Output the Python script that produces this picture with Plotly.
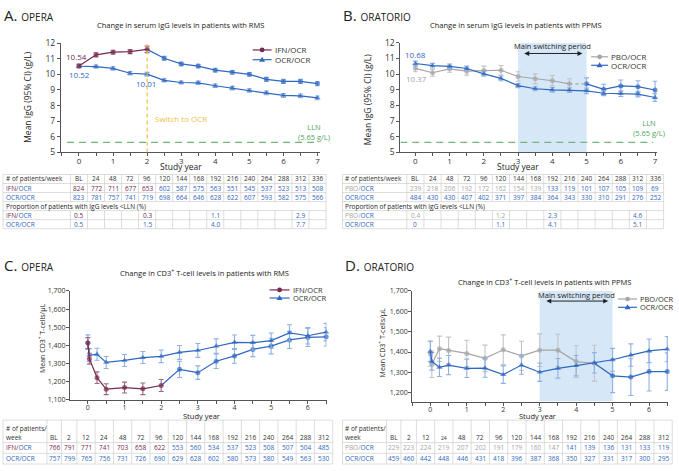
import plotly.graph_objects as go

W, H = 679, 471
FONT = "Open Sans"
PURPLE = "#75294f"
PURPLE_ERR = "#9c6a83"
BLUE = "#2f68c0"
BLUE_ERR = "#8fb1e2"
GRAY = "#a5a5a5"
GRAY_ERR = "#c4c4c4"
TXT = "#333333"
GOLD = "#f3bf3f"
GREEN = "#72b67f"
GREEN_T = "#4ea35f"
SHADE = "#d6e7f8"
LINEC = "#cfcfcf"

# ---------------- DATA ----------------
# Panel A: OPERA serum IgG (g/L)
weeks_A = [0, 24, 48, 72, 96, 120, 144, 168, 192, 216, 240, 264, 288, 312, 336]
igg_A_ifn = [10.54, 11.25, 11.42, 11.45, 11.60, 11.03, 10.67, 10.53, 10.27, 10.13, 10.00, 9.68, 9.55, 9.55, 9.41]
igg_A_ifn_err = [0.12, 0.13, 0.12, 0.13, 0.21, 0.12, 0.11, 0.12, 0.12, 0.12, 0.12, 0.13, 0.13, 0.13, 0.13]
igg_A_ocr = [10.52, 10.50, 10.38, 10.07, 10.01, 9.62, 9.48, 9.46, 9.27, 9.12, 8.97, 8.82, 8.65, 8.62, 8.50]
igg_A_ocr_err = [0.10, 0.10, 0.11, 0.11, 0.12, 0.10, 0.10, 0.11, 0.11, 0.11, 0.11, 0.12, 0.12, 0.12, 0.12]
n_A_ifn = [824, 772, 711, 677, 653, 602, 587, 575, 563, 551, 545, 537, 523, 513, 508]
n_A_ocr = [823, 781, 757, 741, 719, 698, 664, 646, 628, 622, 607, 593, 582, 575, 566]
lln_weeks_A = [0, 96, 192, 312]
lln_A_ifn = ["0.5", "0.3", "1.1", "2.9"]
lln_A_ocr = ["0.5", "1.5", "4.0", "7.7"]

# Panel B: ORATORIO serum IgG (g/L)
weeks_B = [0, 24, 48, 72, 96, 120, 144, 168, 192, 216, 240, 264, 288, 312, 336]
igg_B_pbo = [10.37, 10.09, 10.34, 10.19, 10.23, 10.25, 9.85, 9.70, 9.58, 9.38, 9.38, 9.03, 9.25, 9.20, 8.99]
igg_B_pbo_err = [0.22, 0.22, 0.22, 0.25, 0.28, 0.30, 0.30, 0.32, 0.33, 0.33, 0.38, 0.33, 0.38, 0.38, 0.56]
igg_B_ocr = [10.68, 10.54, 10.50, 10.36, 10.02, 9.73, 9.27, 9.07, 9.00, 8.98, 8.93, 8.78, 8.75, 8.73, 8.51]
igg_B_ocr_err = [0.15, 0.15, 0.15, 0.15, 0.15, 0.15, 0.13, 0.13, 0.15, 0.15, 0.18, 0.15, 0.18, 0.18, 0.25]
n_B_pbo = [239, 218, 206, 192, 172, 162, 154, 139, 133, 119, 101, 107, 105, 109, 69]
n_B_ocr = [484, 430, 430, 407, 402, 371, 397, 384, 364, 343, 330, 310, 291, 276, 252]
lln_weeks_B = [0, 120, 192, 312]
lln_B_pbo = ["0.4", "1.2", "2.3", "4.6"]
lln_B_ocr = ["0", "1.1", "4.1", "5.1"]

# Panel C: OPERA CD3+ T cells (cells/uL)
weeks_C = [0, 2, 12, 24, 48, 72, 96, 120, 144, 168, 192, 216, 240, 264, 288, 312]
cd3_C_ifn = [1413, 1327, 1222, 1159, 1168, 1161, 1179, 1268, 1250, 1313, 1342, 1378, 1396, 1430, 1444, 1447]
cd3_C_ifn_err = [30, 30, 32, 30, 30, 32, 33, 45, 37, 40, 40, 40, 43, 47, 50, 50]
cd3_C_ocr = [1418, 1347, 1351, 1306, 1317, 1333, 1340, 1361, 1372, 1396, 1417, 1415, 1426, 1469, 1453, 1473]
cd3_C_ocr_err = [40, 35, 33, 33, 33, 33, 35, 38, 38, 40, 40, 40, 42, 45, 45, 48]
n_C_ifn = [766, 791, 771, 741, 703, 658, 622, 553, 560, 534, 537, 523, 508, 507, 504, 485]
n_C_ocr = [757, 799, 765, 756, 731, 726, 690, 629, 628, 602, 580, 573, 580, 549, 563, 530]

# Panel D: ORATORIO CD3+ T cells (cells/uL)
weeks_D = [0, 2, 12, 24, 48, 72, 96, 120, 144, 168, 192, 216, 240, 264, 288, 312]
cd3_D_pbo = [1392, 1340, 1416, 1408, 1393, 1369, 1411, 1381, 1409, 1409, 1353, 1345, 1283, 1277, 1304, 1304]
cd3_D_pbo_err = [62, 65, 62, 65, 65, 65, 73, 72, 80, 78, 78, 88, 82, 90, 95, 92]
cd3_D_ocr = [1403, 1354, 1325, 1336, 1320, 1321, 1289, 1336, 1301, 1320, 1333, 1347, 1362, 1385, 1406, 1414]
cd3_D_ocr_err = [50, 43, 45, 47, 45, 45, 43, 45, 45, 48, 50, 50, 56, 55, 58, 62]
n_D_pbo = [229, 223, 224, 219, 207, 202, 191, 179, 160, 147, 141, 139, 136, 131, 133, 119]
n_D_ocr = [459, 460, 442, 448, 446, 431, 418, 396, 387, 368, 350, 327, 331, 317, 300, 295]

WEEKS_PER_YEAR = 48
LLN = 5.65

# ---------------- GEOMETRY ----------------
P = {
    "A": dict(xa="x", ya="y", px=(61, 320), xr=(-0.53, 7.06), py=(38, 150), yr=(5, 12)),
    "B": dict(xa="x2", ya="y2", px=(401, 658), xr=(-0.4375, 7.058), py=(37.7, 150), yr=(5, 12)),
    "C": dict(xa="x3", ya="y3", px=(70, 327), xr=(-0.49, 6.51), py=(291.7, 403.3), yr=(1100, 1700)),
    "D": dict(xa="x4", ya="y4", px=(412.7, 669), xr=(-0.5, 6.52), py=(291.7, 405), yr=(1157, 1700)),
}


def to_px(p, v):
    return p["px"][0] + (v - p["xr"][0]) / (p["xr"][1] - p["xr"][0]) * (p["px"][1] - p["px"][0])


def yr(w):
    return w / WEEKS_PER_YEAR


fig = go.Figure()
ann = []
shapes = []


def txt(x, y, s, size=6.5, color=TXT, xanchor="center", yanchor="middle", angle=0):
    ann.append(dict(x=x / W, y=1 - y / H, xref="paper", yref="paper", text=s, showarrow=False,
                    font=dict(family=FONT, size=size, color=color), xanchor=xanchor,
                    yanchor=yanchor, textangle=angle, borderpad=0))


def dtxt(p, x, y, s, size=8, color=TXT, xanchor="center"):
    ann.append(dict(x=x, y=y, xref=p["xa"], yref=p["ya"], text=s, showarrow=False,
                    font=dict(family=FONT, size=size, color=color), xanchor=xanchor,
                    yanchor="middle", borderpad=0))


def series(p, weeks, ys, errs, color, ecolor, symbol, msize=5, hide_first=False, dash="solid"):
    sizes = [msize] * len(weeks)
    e = list(errs)
    if hide_first:
        sizes[0] = 0
        e[0] = 0
    fig.add_trace(go.Scatter(
        x=[yr(w) for w in weeks], y=ys, mode="lines+markers",
        line=dict(color=color, width=1.2, dash=dash),
        marker=dict(color=color, size=sizes, symbol=symbol, line=dict(width=0)),
        error_y=dict(type="data", array=e, color=ecolor, thickness=1.1, width=2.5),
        xaxis=p["xa"], yaxis=p["ya"], showlegend=False, cliponaxis=False, hoverinfo="skip"))


# ---- Panel A ----
pA = P["A"]
k = 4  # switch at week 96
series(pA, weeks_A[k:], igg_A_ifn[k:], igg_A_ifn_err[k:], BLUE, BLUE_ERR, "circle", hide_first=True)
series(pA, weeks_A, igg_A_ocr, igg_A_ocr_err, BLUE, BLUE_ERR, "triangle-up", 5.5)
series(pA, weeks_A[:k + 1], igg_A_ifn[:k + 1], igg_A_ifn_err[:k + 1], PURPLE, PURPLE_ERR, "circle")

# ---- Panel B ----
pB = P["B"]
kb = 9  # gray up to week 216, dotted to 240, then blue
series(pB, weeks_B[kb + 1:], igg_B_pbo[kb + 1:], igg_B_pbo_err[kb + 1:], BLUE, BLUE_ERR, "circle")
fig.add_trace(go.Scatter(x=[yr(w) for w in weeks_B[kb:kb + 2]], y=igg_B_pbo[kb:kb + 2], mode="lines",
                         line=dict(color=GRAY, width=1.2, dash="dot"), xaxis="x2", yaxis="y2",
                         showlegend=False, hoverinfo="skip"))
series(pB, weeks_B[:kb + 1], igg_B_pbo[:kb + 1], igg_B_pbo_err[:kb + 1], GRAY, GRAY_ERR, "circle")
series(pB, weeks_B, igg_B_ocr, igg_B_ocr_err, BLUE, BLUE_ERR, "triangle-up", 5.5)

# ---- Panel C ----
pC = P["C"]
kc = 6  # switch at week 96
series(pC, weeks_C[kc:], cd3_C_ifn[kc:], cd3_C_ifn_err[kc:], BLUE, BLUE_ERR, "circle", hide_first=True)
series(pC, weeks_C, cd3_C_ocr, cd3_C_ocr_err, BLUE, BLUE_ERR, "triangle-up", 5.5)
series(pC, weeks_C[:kc + 1], cd3_C_ifn[:kc + 1], cd3_C_ifn_err[:kc + 1], PURPLE, PURPLE_ERR, "circle")

# ---- Panel D ----
pD = P["D"]
kd = 11
series(pD, weeks_D[:kd + 1], cd3_D_pbo[:kd + 1], cd3_D_pbo_err[:kd + 1], GRAY, GRAY_ERR, "circle")
series(pD, weeks_D[kd:], cd3_D_pbo[kd:], cd3_D_pbo_err[kd:], BLUE, BLUE_ERR, "circle", hide_first=True)
series(pD, weeks_D, cd3_D_ocr, cd3_D_ocr_err, BLUE, BLUE_ERR, "triangle-up", 5.5)

# ---------------- AXES ----------------
layout_axes = {}
for i, key in enumerate("ABCD"):
    p = P[key]
    sfx = "" if i == 0 else str(i + 1)
    big = key in "AB"
    layout_axes["xaxis" + sfx] = dict(
        domain=[p["px"][0] / W, p["px"][1] / W], range=list(p["xr"]), anchor="y" + sfx,
        showline=True, linecolor="#555", linewidth=1, ticks="outside", ticklen=3, tickcolor="#555",
        tick0=0, dtick=1, minor=dict(dtick=0.5, tick0=0, ticks="outside", ticklen=3, tickcolor="#555",
                                     showgrid=False),
        showgrid=False, zeroline=False, ticklabelstandoff=-2,
        tickfont=dict(family=FONT, size=8 if big else 7, color=TXT))
    if big:
        ytv = list(range(5, 13))
        ytt = [str(v) for v in ytv]
    else:
        ytv = list(range(1100 if key == "C" else 1200, 1701, 100))
        ytt = [f"{v:,}" for v in ytv]
    layout_axes["yaxis" + sfx] = dict(
        domain=[1 - p["py"][1] / H, 1 - p["py"][0] / H], range=list(p["yr"]), anchor="x" + sfx,
        showline=True, linecolor="#555", linewidth=1, ticks="outside", ticklen=3, tickcolor="#555",
        tickvals=ytv, ticktext=ytt, showgrid=False, zeroline=False,
        ticklabelstandoff=0 if big else -1,
        tickfont=dict(family=FONT, size=8.5 if big else 7, color=TXT))

# ---------------- DECORATIONS ----------------
# shading for main switching period + double arrow
for key in "BD":
    p = P[key]
    shapes.append(dict(type="rect", xref=p["xa"], yref=p["ya"], x0=3, x1=5, y0=p["yr"][0], y1=p["yr"][1],
                       fillcolor=SHADE, line=dict(width=0), layer="below"))
    ymid = 11.8 if key == "B" else 1679
    yarr = 11.32 if key == "B" else 1650
    dtxt(p, 4.0, ymid, "Main switching period", size=7.5, color="#222")
    xa0, xa1 = 3.18, 4.88
    xpx = (p["xr"][1] - p["xr"][0]) / (p["px"][1] - p["px"][0])
    ypx = (p["yr"][1] - p["yr"][0]) / (p["py"][1] - p["py"][0])
    shapes.append(dict(type="line", xref=p["xa"], yref=p["ya"], x0=xa0 + 3 * xpx, x1=xa1 - 3 * xpx,
                       y0=yarr, y1=yarr, line=dict(color="#222", width=1)))
    for tip, sgn in ((xa0, 1), (xa1, -1)):
        path = (f"M {tip},{yarr} L {tip + sgn * 5 * xpx},{yarr + 2.5 * ypx} "
                f"L {tip + sgn * 5 * xpx},{yarr - 2.5 * ypx} Z")
        shapes.append(dict(type="path", xref=p["xa"], yref=p["ya"], path=path, fillcolor="#222",
                           line=dict(width=0)))

# switch line A
shapes.append(dict(type="line", xref="x", yref="y", x0=2, x1=2, y0=5, y1=11.95,
                   line=dict(color=GOLD, width=1.2, dash="4px,3px")))
dtxt(pA, 2.2, 7.2, "Switch to OCR", size=8, color=GOLD, xanchor="left")

# LLN lines
for key, x0, x1, lx, ly in (("A", -0.35, 7.0, 6.9, 6.31), ("B", -0.44, 6.95, 6.82, 6.56)):
    p = P[key]
    shapes.append(dict(type="line", xref=p["xa"], yref=p["ya"], x0=x0, x1=x1, y0=LLN, y1=LLN,
                       line=dict(color=GREEN, width=1.3, dash="7px,5px")))
    dtxt(p, lx, ly, "LLN<br>(5.65 g/L)", size=7.5, color=GREEN_T)

# data labels
dtxt(pA, -0.07, 11.15, "10.54", color=PURPLE)
dtxt(pA, 0.02, 10.0, "10.52", color=BLUE)
dtxt(pA, 1.97, 12.19, "11.60<sup>a</sup>", color=PURPLE)
dtxt(pA, 1.96, 9.44, "10.01", color=BLUE)
dtxt(pA, 7.29, 9.54, "9.41", color=PURPLE)
dtxt(pA, 7.29, 8.69, "8.50", color=BLUE)
dtxt(pB, 0.01, 11.28, "10.68", color=BLUE)
dtxt(pB, 0.03, 9.74, "10.37", color=GRAY)
dtxt(pB, 7.33, 9.16, "8.99", color=GRAY)
dtxt(pB, 7.33, 8.53, "8.51", color=BLUE)

# panel letters & titles
txt(3, 9, "A. <span style='font-size:10px'>OPERA</span>", size=15, color="#222", xanchor="left")
txt(343, 9, "B. <span style='font-size:10px'>ORATORIO</span>", size=15, color="#222", xanchor="left")
txt(3, 265, "C. <span style='font-size:10px'>OPERA</span>", size=15, color="#222", xanchor="left")
txt(345, 265, "D. <span style='font-size:10px'>ORATORIO</span>", size=15, color="#222", xanchor="left")
txt(181, 19, "Change in serum IgG levels in patients with RMS", size=7.5, color="#222")
txt(517, 19, "Change in serum IgG levels in patients with PPMS", size=7.5, color="#222")
txt(205, 273, "Change in CD3<sup>+</sup> T-cell levels in patients with RMS", size=7.5, color="#222")
txt(545, 282, "Change in CD3<sup>+</sup> T-cell levels in patients with PPMS", size=7.5, color="#222")

# axis titles
txt(181, 164, "Study year", size=8.5, color="#222")
txt(519, 164, "Study year", size=8.5, color="#222")
txt(202, 419.5, "Study year", size=7.5, color="#222")
txt(538, 419.5, "Study year", size=7.5, color="#222")
txt(28, 93, "Mean IgG (95% CI) (g/L)", size=8.5, color="#222", angle=-90)
txt(368, 95, "Mean IgG (95% CI) (g/L)", size=8.5, color="#222", angle=-90)
txt(42, 340, "Mean CD3<sup>+</sup> T-cells/µL", size=7, color="#222", angle=-90)
txt(383, 345, "Mean CD3<sup>+</sup> T-cells/µL", size=7, color="#222", angle=-90)


# manual legends
def legend_item(x0, x1, y, color, symbol, label, size=8):
    shapes.append(dict(type="line", xref="paper", yref="paper", x0=x0 / W, x1=x1 / W,
                       y0=1 - y / H, y1=1 - y / H, line=dict(color=color, width=1.2)))
    xc = (x0 + x1) / 2
    if symbol == "circle":
        r = 2.4
        shapes.append(dict(type="circle", xref="paper", yref="paper", x0=(xc - r) / W, x1=(xc + r) / W,
                           y0=1 - (y + r) / H, y1=1 - (y - r) / H, fillcolor=color, line=dict(width=0)))
    else:
        pts = [(xc, y - 3), (xc - 3, y + 2), (xc + 3, y + 2)]
        path = "M " + " L ".join(f"{a / W:.5f},{1 - b / H:.5f}" for a, b in pts) + " Z"
        shapes.append(dict(type="path", xref="paper", yref="paper", path=path, fillcolor=color,
                           line=dict(width=0)))
    txt(x1 + 2, y, label, size=size, color=TXT, xanchor="left")


legend_item(253, 272, 45, PURPLE, "circle", "IFN/OCR")
legend_item(253, 272, 55, BLUE, "triangle", "OCR/OCR")
legend_item(592, 609, 52, GRAY, "circle", "PBO/OCR")
legend_item(592, 609, 60.7, BLUE, "triangle", "OCR/OCR")
legend_item(270, 290, 290.7, PURPLE, "circle", "IFN/OCR", 7.5)
legend_item(270, 290, 299, BLUE, "triangle", "OCR/OCR", 7.5)
legend_item(619, 638, 300, GRAY, "circle", "PBO/OCR", 7.5)
legend_item(619, 638, 308.5, BLUE, "triangle", "OCR/OCR", 7.5)


def lab(a, ca, b="OCR", cb=BLUE):
    return f"<span style='color:{ca}'>{a}/</span><span style='color:{cb}'>{b}</span>"


def hline(path, x0, x1, y):
    path.append(f"M {x0 / W:.5f},{1 - y / H:.5f} L {x1 / W:.5f},{1 - y / H:.5f}")


def vline(path, x, y0, y1):
    path.append(f"M {x / W:.5f},{1 - y0 / H:.5f} L {x / W:.5f},{1 - y1 / H:.5f}")


# ---------------- TABLES A / B ----------------
def table_ab(p, left, weeks, lab1, n1, c1, lab2, n2, c2, lln_w, l1, lc1, l2, lc2):
    tops = [172.5 + 9.25 * i for i in range(7)]
    cy = [(tops[i] + tops[i + 1]) / 2 for i in range(6)]
    cx = [to_px(p, yr(w)) for w in weeks]
    edges = [to_px(p, yr(w) - 0.25) for w in weeks] + [to_px(p, yr(weeks[-1]) + 0.25)]
    right = edges[-1]
    path = []
    for t in tops:
        hline(path, left, right, t)
    vline(path, left, tops[0], tops[-1])
    vline(path, right, tops[0], tops[-1])
    for e in edges[:-1]:
        vline(path, e, tops[0], tops[3])
        vline(path, e, tops[4], tops[6])
    shapes.append(dict(type="path", xref="paper", yref="paper", path=" ".join(path),
                       line=dict(color=LINEC, width=0.7)))
    txt(left + 2, cy[0], "# of patients/week", xanchor="left")
    for w, x in zip(weeks, cx):
        txt(x, cy[0], "BL" if w == 0 else str(w))
    txt(left + 2, cy[1], lab1, xanchor="left")
    txt(left + 2, cy[2], lab2, xanchor="left")
    for i, x in enumerate(cx):
        txt(x, cy[1], str(n1[i]), color=c1[i])
        txt(x, cy[2], str(n2[i]), color=c2[i])
    txt(left + 2, cy[3], "Proportion of patients with IgG levels &lt;LLN (%)", color="#222", xanchor="left")
    txt(left + 2, cy[4], lab1, xanchor="left")
    txt(left + 2, cy[5], lab2, xanchor="left")
    for j, w in enumerate(lln_w):
        x = to_px(p, yr(w))
        txt(x, cy[4], l1[j], color=lc1[j])
        txt(x, cy[5], l2[j], color=lc2[j])


table_ab(pA, 3, weeks_A,
         lab("IFN", PURPLE), n_A_ifn, [PURPLE if w <= 96 else BLUE for w in weeks_A],
         lab("OCR", BLUE), n_A_ocr, [BLUE] * len(weeks_A),
         lln_weeks_A, lln_A_ifn, [PURPLE if w <= 96 else BLUE for w in lln_weeks_A],
         lln_A_ocr, [BLUE] * 4)
table_ab(pB, 343, weeks_B,
         lab("PBO", GRAY), n_B_pbo, [GRAY if w <= 168 else BLUE for w in weeks_B],
         lab("OCR", BLUE), n_B_ocr, [BLUE] * len(weeks_B),
         lln_weeks_B, lln_B_pbo, [GRAY if w <= 168 else BLUE for w in lln_weeks_B],
         lln_B_ocr, [BLUE] * 4)


# ---------------- TABLES C / D ----------------
def table_cd(left, weeks, lab1, n1, c1, lab2, n2, c2, small24=False):
    e1 = left + 44
    edges = [e1, e1 + 14.5, e1 + 30] + [e1 + 30 + 18.3 * i for i in range(1, 15)]
    right = edges[-1]
    cx = [(edges[i] + edges[i + 1]) / 2 for i in range(len(weeks))]
    tops = [424, 447, 458, 469]
    path = []
    for t in tops:
        hline(path, left, right, t)
    for e in [left] + edges:
        vline(path, e, tops[0], tops[-1])
    shapes.append(dict(type="path", xref="paper", yref="paper", path=" ".join(path),
                       line=dict(color=LINEC, width=0.7)))
    txt(left + 2, 433, "# of patients/", xanchor="left")
    txt(left + 2, 441.5, "week", xanchor="left")
    for w, x in zip(weeks, cx):
        if small24 and w == 24:
            txt(x, 442.5, "24", size=5)
        else:
            txt(x, 441.5, "BL" if w == 0 else str(w))
    txt(left + 2, 452.5, lab1, xanchor="left")
    txt(left + 2, 463.5, lab2, xanchor="left")
    for i, x in enumerate(cx):
        txt(x, 452.5, str(n1[i]), color=c1[i])
        txt(x, 463.5, str(n2[i]), color=c2[i])


table_cd(3, weeks_C, lab("IFN", PURPLE), n_C_ifn, [PURPLE if w <= 96 else BLUE for w in weeks_C],
         lab("OCR", BLUE), n_C_ocr, [BLUE] * len(weeks_C))
table_cd(343, weeks_D, lab("PBO", GRAY), n_D_pbo, [GRAY if w <= 168 else BLUE for w in weeks_D],
         lab("OCR", BLUE), n_D_ocr, [BLUE] * len(weeks_D), small24=True)

fig.update_layout(
    width=W, height=H, autosize=False, margin=dict(l=0, r=0, t=0, b=0),
    paper_bgcolor="white", plot_bgcolor="rgba(0,0,0,0)", showlegend=False,
    font=dict(family=FONT, color=TXT), annotations=ann, shapes=shapes, **layout_axes)

fig.write_html("out.html", config={"displayModeBar": False},
               post_script="document.body.style.margin='0px';document.body.style.padding='0px';"
                           "document.body.style.overflow='hidden';")
